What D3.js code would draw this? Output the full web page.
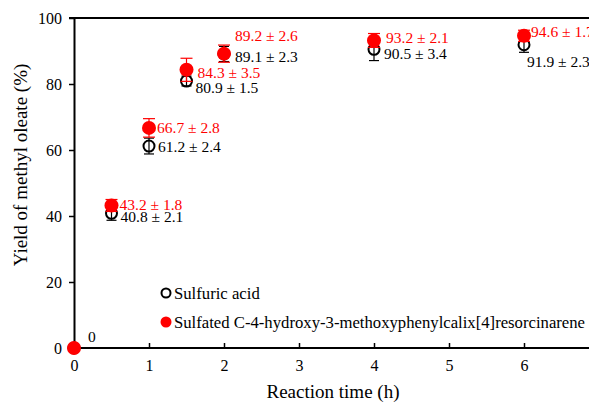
<!DOCTYPE html>
<html>
<head>
<meta charset="utf-8">
<script src="https://cdn.jsdelivr.net/npm/d3@7"></script>
<style>
  body { margin: 0; background: #fff; }
</style>
</head>
<body>
<div id="chart"></div>
<script>
// data
const times = [0, 0.5, 1, 1.5, 2, 4, 6];
const acidYield = [0, 40.8, 61.2, 80.9, 89.1, 90.5, 91.9];
const acidErr = [0, 2.1, 2.4, 1.5, 2.3, 3.4, 2.3];
const calixYield = [0, 43.2, 66.7, 84.3, 89.2, 93.2, 94.6];
const calixErr = [0, 1.8, 2.8, 3.5, 2.6, 2.1, 1.7];
const xTicks = [0, 1, 2, 3, 4, 5, 6];
const yTicks = [0, 20, 40, 60, 80, 100];
const seriesNames = ["Sulfuric acid", "Sulfated C-4-hydroxy-3-methoxyphenylcalix[4]resorcinarene"];

// label placement (pixel offsets from each point)
const acidLabelOffset = [null, [9, 9], [9, 6], [9, 12], [11, 8], [10, 10], [3, 22]];
const calixLabelOffset = [[14, -6], [8, 5], [8, 5], [11, 8], [11, -13], [12, 3], [7, 1]];

const serif = "Tinos, 'Liberation Serif', 'Times New Roman', 'Noto Serif', 'DejaVu Serif', FreeSerif, serif";
const width = 589, height = 403;
const margin = { top: 18, right: 0, bottom: 55, left: 74 };

const svg = d3.select("#chart").append("svg")
  .attr("width", width)
  .attr("height", height)
  .style("font-family", serif);

const x = d3.scaleLinear().domain([0, 7]).range([margin.left, margin.left + 525]);
const y = d3.scaleLinear().domain([0, 100]).range([height - margin.bottom, margin.top]);

// top border
svg.append("line")
  .attr("x1", margin.left - 5).attr("x2", width)
  .attr("y1", y(100)).attr("y2", y(100))
  .attr("stroke", "#000").attr("stroke-width", 2);

const xAxis = svg.append("g")
  .attr("transform", `translate(0,${y(0)})`)
  .call(d3.axisBottom(x).tickValues(xTicks).tickFormat(d3.format("d"))
    .tickSize(-5).tickPadding(12).tickSizeOuter(0));
xAxis.select(".domain").attr("stroke-width", 2).attr("d", `M${margin.left},0H${width}`);

const yAxis = svg.append("g")
  .attr("transform", `translate(${margin.left},0)`)
  .call(d3.axisLeft(y).tickValues(yTicks).tickFormat(d3.format("d"))
    .tickSize(5).tickPadding(7).tickSizeOuter(0));
yAxis.select(".domain").attr("stroke-width", 2);

svg.selectAll("g").attr("font-family", null);
svg.selectAll(".tick line").attr("stroke-width", 1.5);
svg.selectAll(".tick text").attr("font-size", 16).attr("fill", "#000");
xAxis.selectAll(".tick").filter(d => d === 0).select("line").remove();

svg.append("text")
  .attr("x", 333).attr("y", 398)
  .attr("text-anchor", "middle")
  .attr("font-size", 19)
  .text("Reaction time (h)");

svg.append("text")
  .attr("transform", `translate(27,165) rotate(-90)`)
  .attr("text-anchor", "middle")
  .attr("font-size", 19)
  .text("Yield of methyl oleate (%)");

const acid = times.map((t, i) => ({ t, v: acidYield[i], e: acidErr[i], off: acidLabelOffset[i] }));
const calix = times.map((t, i) => ({ t, v: calixYield[i], e: calixErr[i], off: calixLabelOffset[i] }));

function errorBars(data, color, cap) {
  const g = svg.append("g").attr("stroke", color).attr("stroke-width", 1.2);
  data.filter(d => d.e > 0).forEach(d => {
    const cx = x(d.t), y1 = y(d.v + d.e), y2 = y(d.v - d.e);
    g.append("line").attr("x1", cx).attr("x2", cx).attr("y1", y1).attr("y2", y2);
    g.append("line").attr("x1", cx - cap).attr("x2", cx + cap).attr("y1", y1).attr("y2", y1);
    g.append("line").attr("x1", cx - cap).attr("x2", cx + cap).attr("y1", y2).attr("y2", y2);
  });
}

// sulfuric acid (open black circles)
svg.append("g").selectAll("circle").data(acid).join("circle")
  .attr("cx", d => x(d.t)).attr("cy", d => y(d.v)).attr("r", 5.5)
  .attr("fill", "none").attr("stroke", "#000").attr("stroke-width", 2);
errorBars(acid, "#000", 5);

// calixresorcinarene (filled red)
svg.append("g").selectAll("circle").data(calix).join("circle")
  .attr("cx", d => x(d.t)).attr("cy", d => y(d.v)).attr("r", 7)
  .attr("fill", "#ff0000");
errorBars(calix, "#ff0000", 6);

const fmt = d3.format(".1f");
svg.append("g").selectAll("text").data(acid.filter(d => d.off)).join("text")
  .attr("x", d => x(d.t) + d.off[0]).attr("y", d => y(d.v) + d.off[1])
  .attr("font-size", 15.5).attr("fill", "#000")
  .text(d => `${fmt(d.v)} ± ${fmt(d.e)}`);

svg.append("g").selectAll("text").data(calix).join("text")
  .attr("x", d => x(d.t) + d.off[0]).attr("y", d => y(d.v) + d.off[1])
  .attr("font-size", 15.5).attr("fill", d => d.v === 0 ? "#000" : "#ff0000")
  .text(d => d.v === 0 ? "0" : `${fmt(d.v)} ± ${fmt(d.e)}`);

// legend
const legend = svg.append("g").attr("font-size", 16.7);
legend.append("circle").attr("cx", 166).attr("cy", 293).attr("r", 4.5)
  .attr("fill", "none").attr("stroke", "#000").attr("stroke-width", 2);
legend.append("text").attr("x", 174).attr("y", 298.5).text(seriesNames[0]);
legend.append("circle").attr("cx", 166).attr("cy", 322).attr("r", 5.5)
  .attr("fill", "#ff0000");
legend.append("text").attr("x", 174).attr("y", 327.5).text(seriesNames[1]);
</script>
</body>
</html>
